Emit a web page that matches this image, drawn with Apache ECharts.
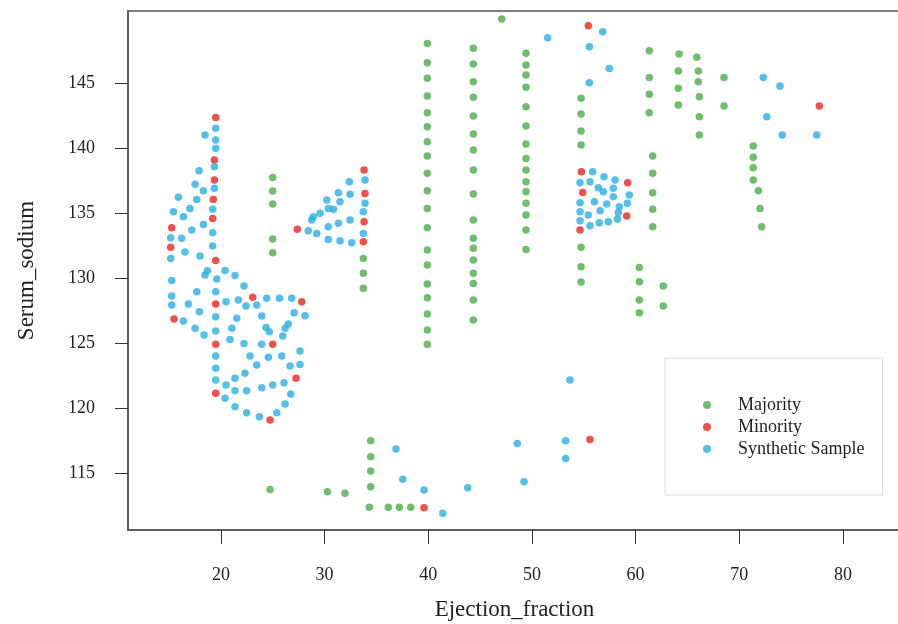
<!DOCTYPE html>
<html>
<head>
<meta charset="utf-8">
<script src="https://cdn.jsdelivr.net/npm/echarts@6/dist/echarts.min.js"></script>
<style>
  html, body { margin: 0; padding: 0; background: #fff; }
  #chart { width: 898px; height: 624px; }
</style>
</head>
<body>
<div id="chart"></div>
<script>
// tick labels
var xTicks = [20, 30, 40, 50, 60, 70, 80];
var yTicks = [115, 120, 125, 130, 135, 140, 145];
var seriesNames = ['Majority', 'Minority', 'Synthetic Sample'];

// [Ejection_fraction, Serum_sodium]
var majority = [
  [25.00, 137.75], [25.00, 136.70], [25.00, 135.70], [25.00, 133.02], [25.00, 131.96],
  [24.74, 113.79], [30.27, 113.61], [31.97, 113.49],
  [34.45, 117.53], [34.45, 116.30], [34.45, 115.20], [34.45, 113.99],
  [34.32, 112.41], [36.15, 112.41], [37.21, 112.41], [38.31, 112.41],
  [33.74, 131.53], [33.74, 130.38], [33.74, 129.23],
  [39.91, 148.04], [39.91, 146.55], [39.91, 145.36], [39.91, 144.00], [39.91, 142.71],
  [39.91, 141.64], [39.91, 140.49], [39.91, 139.39], [39.91, 138.06], [39.91, 136.72],
  [39.91, 135.37], [39.91, 133.88], [39.91, 132.17], [39.91, 131.02], [39.91, 129.56],
  [39.91, 128.51], [39.91, 127.26], [39.91, 126.03], [39.91, 124.93],
  [44.35, 147.66], [44.35, 146.45], [44.35, 145.10], [44.35, 143.90], [44.35, 142.46],
  [44.35, 141.08], [44.35, 139.85], [44.35, 138.31], [44.35, 136.47], [44.35, 134.47],
  [44.35, 133.07], [44.35, 132.30], [44.35, 131.40], [44.35, 130.38], [44.35, 129.61],
  [44.35, 128.33], [44.35, 126.79],
  [47.09, 149.91],
  [49.43, 147.28], [49.43, 146.38], [49.43, 145.61], [49.43, 144.67], [49.43, 143.18],
  [49.43, 141.69], [49.43, 140.31], [49.43, 139.21], [49.43, 138.31], [49.43, 137.42],
  [49.43, 136.65], [49.43, 135.76], [49.43, 134.86], [49.43, 133.71], [49.43, 132.22],
  [54.74, 143.82], [54.74, 142.62], [54.74, 141.31], [54.74, 140.23],
  [54.74, 132.38], [54.74, 130.89], [54.74, 129.71],
  [61.32, 147.48], [61.32, 145.43], [61.32, 144.13], [61.32, 142.71],
  [61.65, 139.39], [61.65, 138.06], [61.65, 136.57], [61.65, 135.30], [61.65, 133.96],
  [60.36, 130.84], [60.36, 129.74], [60.36, 128.33], [60.36, 127.36],
  [62.67, 129.41], [62.67, 127.87],
  [64.20, 147.22], [64.12, 145.92], [64.12, 144.59], [64.12, 143.31],
  [65.90, 146.97], [66.05, 145.92], [66.05, 145.10], [66.15, 143.94], [66.15, 142.41], [66.15, 141.00],
  [68.53, 145.43], [68.53, 143.23],
  [71.35, 140.16], [71.35, 139.29], [71.35, 138.49], [71.35, 137.55],
  [71.84, 136.72], [72.00, 135.37], [72.16, 133.96]
];

var minority = [
  [19.50, 142.36], [19.37, 139.08], [19.37, 137.55], [19.27, 136.06], [19.21, 134.60],
  [15.26, 133.88], [15.16, 132.38], [19.50, 131.36], [23.07, 128.54], [27.80, 128.20],
  [19.50, 128.02], [15.48, 126.87], [19.50, 124.93], [25.00, 124.93], [27.25, 122.32],
  [19.50, 121.17], [24.74, 119.11],
  [27.37, 133.76], [33.81, 138.31], [33.90, 136.52], [33.81, 134.35], [33.74, 132.81],
  [39.59, 112.38], [55.60, 117.63], [55.44, 149.40],
  [54.77, 138.18], [54.90, 136.60], [54.64, 133.71], [59.24, 137.34], [59.14, 134.78],
  [77.72, 143.23]
];

var synthetic = [
  // left cluster
  [19.50, 141.52], [19.50, 140.62], [19.50, 139.98], [19.37, 138.57], [19.37, 136.91],
  [19.21, 135.30], [19.21, 133.50], [19.21, 132.48], [19.60, 129.94], [19.50, 128.97],
  [19.50, 127.05], [19.50, 125.95], [19.50, 124.03], [19.50, 123.09], [19.50, 122.19],
  [18.47, 141.00], [17.89, 138.26], [17.51, 137.22], [18.31, 136.72], [15.90, 136.22],
  [17.67, 136.06], [17.02, 135.37], [15.41, 135.11], [16.38, 134.73], [18.31, 134.14],
  [17.19, 133.71], [16.22, 133.07], [15.16, 133.11], [16.54, 132.02], [17.99, 131.71],
  [15.16, 131.52], [18.69, 130.58], [18.47, 130.25], [20.40, 130.60], [21.36, 130.21],
  [15.26, 129.83], [22.23, 129.41], [17.67, 128.97], [15.26, 128.64], [15.26, 127.95],
  [16.86, 128.02], [20.50, 128.20], [21.68, 128.33], [22.42, 127.87], [23.46, 127.95],
  [24.42, 128.46], [25.64, 128.46], [26.83, 128.46], [17.92, 127.43], [27.06, 127.36],
  [28.12, 127.12], [16.38, 126.72], [21.53, 126.93], [23.94, 127.10], [17.51, 126.16],
  [18.38, 125.64], [21.05, 126.16], [24.35, 126.23], [24.67, 125.90], [26.50, 126.49],
  [26.19, 126.16], [25.97, 125.57], [20.88, 125.31], [22.23, 125.00], [23.94, 124.93],
  [27.63, 124.41], [22.81, 124.03], [24.58, 123.93], [25.87, 124.03], [27.63, 123.39],
  [26.67, 123.26], [23.46, 123.34], [22.32, 122.70], [21.36, 122.32], [20.50, 121.80],
  [21.36, 121.37], [22.48, 121.37], [23.94, 121.60], [25.00, 121.80], [26.09, 121.98],
  [20.40, 120.78], [26.74, 121.11], [26.19, 120.34], [21.36, 120.14], [22.48, 119.68],
  [25.39, 119.68], [23.71, 119.37],
  // triangle
  [28.43, 133.65], [29.24, 133.45], [28.76, 134.47], [28.92, 134.73], [29.56, 134.99],
  [30.36, 135.37], [30.21, 136.01], [30.85, 135.30], [31.33, 136.57], [31.49, 135.88],
  [32.39, 137.42], [32.46, 136.45], [30.36, 133.96], [31.33, 134.22], [32.46, 134.47],
  [30.36, 132.99], [31.49, 132.89], [32.62, 132.73], [33.90, 137.55], [33.90, 135.76],
  [33.74, 135.11], [33.74, 133.45],
  // bottom
  [36.89, 116.89], [37.54, 114.56], [39.59, 113.75], [41.40, 111.95], [43.81, 113.92],
  [48.59, 117.32], [49.24, 114.38], [53.67, 122.19], [53.26, 117.53], [53.26, 116.17],
  // top
  [51.52, 148.47], [56.83, 148.94], [55.54, 147.78], [57.47, 146.12], [55.54, 145.02],
  // right
  [72.32, 145.43], [73.93, 144.77], [72.65, 142.41], [74.15, 141.00], [77.47, 141.00],
  // inner cluster near 55
  [55.86, 138.18], [54.64, 137.34], [55.60, 137.42], [56.95, 137.80], [58.02, 137.55],
  [56.40, 136.95], [56.89, 136.65], [57.85, 136.91], [59.39, 136.39], [54.64, 135.80],
  [56.02, 135.88], [57.21, 135.70], [57.85, 136.26], [58.43, 135.50], [59.20, 135.76],
  [54.64, 135.11], [55.44, 134.86], [56.57, 135.19], [58.33, 135.03], [54.64, 134.42],
  [55.60, 134.03], [56.50, 134.27], [57.37, 134.35], [58.24, 134.53]
];

var colors = ['#4cad4a', '#e8261e', '#29afe2'];
var serif = '"Liberation Serif", "DejaVu Serif", serif';

var chart = echarts.init(document.getElementById('chart'));
chart.setOption({
  animation: false,
  color: colors,
  grid: {
    left: 128, right: -3, top: 11, bottom: 94,
    show: true,
    borderColor: '#555',
    borderWidth: 1.5,
    outerBoundsMode: 'none'
  },
  legend: {
    orient: 'vertical',
    left: 665,
    top: 358,
    padding: [38, 18, 37, 38],
    borderColor: '#dcdcdc',
    borderWidth: 1,
    icon: 'circle',
    itemWidth: 8,
    itemHeight: 8,
    itemGap: 4,
    textStyle: { fontFamily: serif, fontSize: 18, color: '#222', padding: [0, 0, 0, 22] },
    data: seriesNames
  },
  xAxis: {
    type: 'value',
    min: 11.04,
    max: 85.6,
    name: 'Ejection_fraction',
    nameLocation: 'middle',
    nameGap: 68,
    nameTextStyle: { fontFamily: serif, fontSize: 23, color: '#222' },
    splitLine: { show: false },
    axisLine: { lineStyle: { color: '#555', width: 1.5 } },
    axisTick: { customValues: xTicks, length: 14, lineStyle: { color: '#333' } },
    axisLabel: { customValues: xTicks, margin: 36, fontFamily: serif, fontSize: 18, color: '#222' }
  },
  yAxis: {
    type: 'value',
    min: 110.67,
    max: 150.53,
    name: 'Serum_sodium',
    nameLocation: 'middle',
    nameGap: 90,
    nameTextStyle: { fontFamily: serif, fontSize: 23, color: '#222' },
    splitLine: { show: false },
    axisLine: { show: true, lineStyle: { color: '#555', width: 1.5 } },
    axisTick: { show: true, customValues: yTicks, length: 13, lineStyle: { color: '#333' } },
    axisLabel: { customValues: yTicks, margin: 33, fontFamily: serif, fontSize: 18, color: '#222' }
  },
  series: [
    { name: seriesNames[0], type: 'scatter', symbolSize: 7.5, data: majority },
    { name: seriesNames[1], type: 'scatter', symbolSize: 7.5, data: minority },
    { name: seriesNames[2], type: 'scatter', symbolSize: 7.5, data: synthetic }
  ]
});
</script>
</body>
</html>
